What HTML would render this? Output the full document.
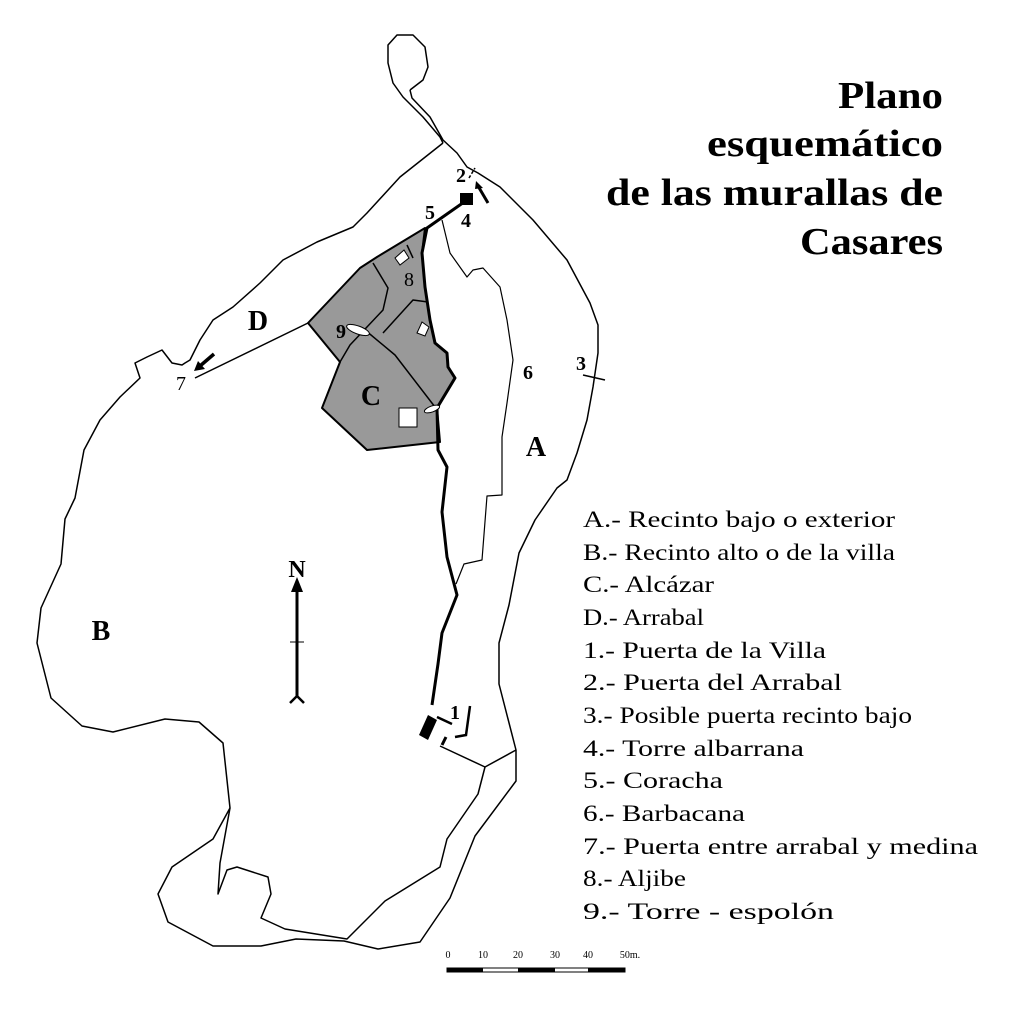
<!DOCTYPE html>
<html><head><meta charset="utf-8"><style>
html,body{margin:0;padding:0;background:#fff;}
svg{display:block;}
</style></head><body>
<svg width="1024" height="1015" viewBox="0 0 1024 1015" xmlns="http://www.w3.org/2000/svg" font-family="'Liberation Serif', serif">
<rect width="1024" height="1015" fill="#fff"/>
<polygon points="308,323 360,268 377,257 425,228 422,253 425,287 430,320 435,343 447,353 448,367 455,378 437,408 440,442 367,450 322,408 340,362" fill="#999" stroke="#000" stroke-width="2" stroke-linejoin="round"/>
<g fill="none" stroke="#000" stroke-width="1.5" stroke-linejoin="round">
<polyline points="373,263 388,288 383,310 350,345 340,362"/>
<polyline points="383,333 413,300 428,302"/>
<polyline points="365,330 395,355 435,407"/>
<polyline points="413,258 407,245"/>
<polyline points="410,90 412,98 430,117 443,140 457,153 467,167 478,173 500,187 533,220 567,260 590,303 598,325 598,353 593,387 587,420 577,453 567,480 557,488 535,520 519,553 509,605 499,643 499,684 516,750 516,781 475,836 450,898 420,942 378,949 344,941 296,939 261,946 213,946 168,922 158,894 172,867 213,839 230,808"/>
<polyline points="410,90 423,80 428,67 425,47 413,35 397,35 388,45 388,63 393,83 403,97 423,117 440,137 443,143"/>
<polyline points="443,143 400,177 367,213 353,227 317,242 283,260 260,283 233,307 213,320 200,340 190,360 185,363 182,365 172,363 162,350 147,357 135,363 140,378 120,397 100,420 84,450 75,498 65,519 61,564 41,608 37,643 51,698 82,726 113,732 165,719 199,722 223,743 230,808 220,863 218,894 227,870 237,867 268,877 271,894 261,918 285,929 347,939 385,901 440,867 447,839 478,794 485,767 516,750"/>
<polyline points="440,746 485,767"/>
<polyline points="195,378 308,323"/>
<polyline points="442,220 450,253 467,277 473,270 483,268 500,287 507,320 513,360 507,403 502,437 502,495 487,496 482,560 464,564 456,584" stroke-width="1.2"/>
<polyline points="583,375 605,380" stroke-width="1.5"/>
</g>
<polyline points="467,200 427,228 422,253 425,287 430,320 435,343 447,353 448,367 455,378 437,408 438,450 447,467 442,512 447,557 457,595 442,633 438,664 432,705" fill="none" stroke="#000" stroke-width="3" stroke-linejoin="round"/>
<rect x="460" y="193" width="13" height="12" fill="#000"/>
<polygon points="419,735 428,715 437,720 428,740" fill="#000"/>
<polyline points="437,717 452,724" stroke="#000" stroke-width="2.5"/>
<polyline points="442,745 446,737" stroke="#000" stroke-width="3"/>
<polyline points="470,706 466,735 455,737" fill="none" stroke="#000" stroke-width="2.5"/>
<line x1="488" y1="203" x2="478" y2="186" stroke="#000" stroke-width="3"/>
<polygon points="476,181 483,188 475,189" fill="#000"/>
<line x1="469" y1="178" x2="475" y2="168" stroke="#000" stroke-width="1.5" stroke-dasharray="3,2"/>
<line x1="214" y1="354" x2="200" y2="366" stroke="#000" stroke-width="3.5"/>
<polygon points="194,371 198,361 205,369" fill="#000"/>
<polygon points="395,258 404,250 409,258 400,265" fill="#fff" stroke="#000"/>
<polygon points="417,333 422,322 429,327 425,336" fill="#fff" stroke="#000"/>
<rect x="399" y="408" width="18" height="19" fill="#fff" stroke="#000"/>
<ellipse cx="358" cy="330" rx="12" ry="4" transform="rotate(20 358 330)" fill="#fff" stroke="#000"/>
<ellipse cx="432" cy="409" rx="8" ry="3" transform="rotate(-20 432 409)" fill="#fff" stroke="#000"/>
<line x1="297" y1="590" x2="297" y2="696" stroke="#000" stroke-width="3"/>
<polygon points="297,577 291,592 303,592" fill="#000"/>
<line x1="290" y1="642" x2="304" y2="642" stroke="#000" stroke-width="1"/>
<polyline points="290,703 297,696 304,703" fill="none" stroke="#000" stroke-width="2.5"/>
<g font-weight="bold" fill="#000" text-anchor="middle">
<text x="297" y="577" font-size="24">N</text>
<text x="461" y="182" font-size="20">2</text>
<text x="466" y="227" font-size="20">4</text>
<text x="430" y="219" font-size="20">5</text>
<text x="409" y="286" font-size="20" font-weight="normal">8</text>
<text x="341" y="338" font-size="20">9</text>
<text x="258" y="330" font-size="28">D</text>
<text x="181" y="390" font-size="20" font-weight="normal">7</text>
<text x="371" y="405" font-size="28">C</text>
<text x="528" y="379" font-size="20">6</text>
<text x="581" y="370" font-size="20">3</text>
<text x="536" y="456" font-size="28">A</text>
<text x="101" y="640" font-size="28">B</text>
<text x="455" y="719" font-size="20">1</text>
</g>
<g font-weight="bold" font-size="38" fill="#000" lengthAdjust="spacingAndGlyphs">
<text x="838" y="108" textLength="105" lengthAdjust="spacingAndGlyphs">Plano</text>
<text x="707" y="156" textLength="236" lengthAdjust="spacingAndGlyphs">esquemático</text>
<text x="606" y="205" textLength="337" lengthAdjust="spacingAndGlyphs">de las murallas de</text>
<text x="800" y="254" textLength="143" lengthAdjust="spacingAndGlyphs">Casares</text>
</g>
<g font-size="23" fill="#000">
<text x="583" y="527" textLength="312" lengthAdjust="spacingAndGlyphs">A.- Recinto bajo o exterior</text>
<text x="583" y="560" textLength="312" lengthAdjust="spacingAndGlyphs">B.- Recinto alto o de la villa</text>
<text x="583" y="592" textLength="131" lengthAdjust="spacingAndGlyphs">C.- Alcázar</text>
<text x="583" y="625" textLength="121" lengthAdjust="spacingAndGlyphs">D.- Arrabal</text>
<text x="583" y="658" textLength="243" lengthAdjust="spacingAndGlyphs">1.- Puerta de la Villa</text>
<text x="583" y="690" textLength="259" lengthAdjust="spacingAndGlyphs">2.- Puerta del Arrabal</text>
<text x="583" y="723" textLength="329" lengthAdjust="spacingAndGlyphs">3.- Posible puerta recinto bajo</text>
<text x="583" y="756" textLength="221" lengthAdjust="spacingAndGlyphs">4.- Torre albarrana</text>
<text x="583" y="788" textLength="140" lengthAdjust="spacingAndGlyphs">5.- Coracha</text>
<text x="583" y="821" textLength="162" lengthAdjust="spacingAndGlyphs">6.- Barbacana</text>
<text x="583" y="854" textLength="395" lengthAdjust="spacingAndGlyphs">7.- Puerta entre arrabal y medina</text>
<text x="583" y="886" textLength="103" lengthAdjust="spacingAndGlyphs">8.- Aljibe</text>
<text x="583" y="919" textLength="251" lengthAdjust="spacingAndGlyphs">9.- Torre - espolón</text>
</g>
<g font-size="10" fill="#000" text-anchor="middle">
<text x="448" y="958">0</text>
<text x="483" y="958">10</text>
<text x="518" y="958">20</text>
<text x="555" y="958">30</text>
<text x="588" y="958">40</text>
<text x="630" y="958">50m.</text>
</g>
<rect x="447" y="968" width="178" height="4" fill="#fff" stroke="#000" stroke-width="1"/>
<rect x="447" y="968" width="36" height="4" fill="#000"/>
<rect x="518" y="968" width="37" height="4" fill="#000"/>
<rect x="588" y="968" width="37" height="4" fill="#000"/>
</svg>
</body></html>
